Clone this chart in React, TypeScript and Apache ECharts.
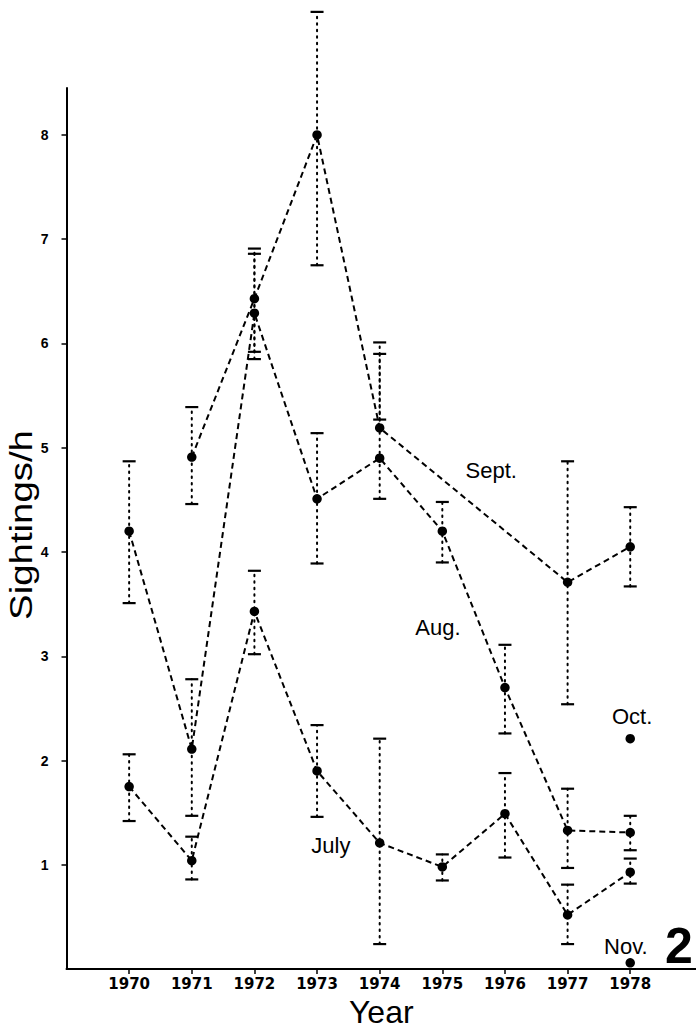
import React, { useEffect, useRef } from "react";
import * as echarts from "echarts";

// ---- data ----
const years = [1970, 1971, 1972, 1973, 1974, 1975, 1976, 1977, 1978];

const septMean = [null, 4.91, 6.43, 8.0, 5.19, null, null, 3.71, 4.05];
const septLow = [null, 4.46, 5.92, 6.75, 5.27, null, null, 2.54, 3.67];
const septHigh = [null, 5.39, 6.91, 9.18, 6.01, null, null, 4.87, 4.43];

const augMean = [4.2, 2.11, 6.29, 4.51, 4.9, 4.2, 2.7, 1.33, 1.31];
const augLow = [3.51, 1.47, 5.85, 3.89, 4.51, 3.9, 2.26, 0.97, 1.14];
const augHigh = [4.87, 2.78, 6.86, 5.14, 5.9, 4.48, 3.11, 1.73, 1.47];

const julyMean = [1.75, 1.04, 3.43, 1.9, 1.21, 0.98, 1.49, 0.52, 0.93];
const julyLow = [1.42, 0.86, 3.02, 1.46, 0.24, 0.85, 1.07, 0.24, 0.82];
const julyHigh = [2.06, 1.27, 3.82, 2.34, 2.21, 1.1, 1.88, 0.81, 1.06];

const octYears = [1978];
const octMean = [2.21];
const novYears = [1978];
const novMean = [0.06];

const yTicks = [1, 2, 3, 4, 5, 6, 7, 8];

// annotation anchors in data coordinates
const monthLabels = ["Sept.", "Aug.", "July", "Oct.", "Nov."];
const monthLabelX = [1975.78, 1974.93, 1973.22, 1978.03, 1977.93];
const monthLabelY = [4.78, 3.28, 1.19, 2.42, 0.22];

const pairs = (vals: (number | null)[]) =>
  years.map((y, i) => (vals[i] == null ? null : [y, vals[i]])).filter(Boolean);

const errTriples = (lo: (number | null)[], hi: (number | null)[]) =>
  years
    .map((y, i) => (lo[i] == null || hi[i] == null ? null : [y, lo[i], hi[i]]))
    .filter(Boolean);

function errorSeries(lo: (number | null)[], hi: (number | null)[]) {
  return {
    type: "custom",
    clip: false,
    silent: true,
    z: 1,
    encode: { x: 0, y: [1, 2] },
    data: errTriples(lo, hi),
    renderItem: (params: any, api: any) => {
      const x = api.value(0);
      const a = api.coord([x, api.value(1)]);
      const b = api.coord([x, api.value(2)]);
      const half = 6.5;
      return {
        type: "group",
        children: [
          {
            type: "line",
            shape: { x1: a[0], y1: a[1], x2: b[0], y2: b[1] },
            style: { stroke: "#000", lineWidth: 2, lineDash: [1.5, 5], lineCap: "round" },
          },
          {
            type: "line",
            shape: { x1: b[0] - half, y1: b[1], x2: b[0] + half, y2: b[1] },
            style: { stroke: "#000", lineWidth: 2.2 },
          },
          {
            type: "line",
            shape: { x1: a[0] - half, y1: a[1], x2: a[0] + half, y2: a[1] },
            style: { stroke: "#000", lineWidth: 2.2 },
          },
        ],
      };
    },
  };
}

function lineSeries(name: string, vals: (number | null)[]) {
  return {
    name,
    type: "line",
    z: 3,
    data: pairs(vals),
    symbol: "circle",
    symbolSize: 9.5,
    itemStyle: { color: "#000", opacity: 1 },
    lineStyle: { color: "#000", width: 2, type: [6, 4] },
    silent: true,
  };
}

function dotSeries(name: string, xs: number[], vals: number[]) {
  return {
    type: "scatter",
    name,
    z: 3,
    symbolSize: 9.5,
    itemStyle: { color: "#000", opacity: 1 },
    data: xs.map((y, i) => [y, vals[i]]),
    silent: true,
  };
}

export default function App() {
  const ref = useRef<HTMLDivElement>(null);
  useEffect(() => {
    document.body.style.margin = "0";
    const chart = echarts.init(ref.current!, null, { renderer: "svg" });
    const font = '"Liberation Sans", Arial, sans-serif';
    chart.setOption({
      animation: false,
      backgroundColor: "#fff",
      grid: { left: 66.5, right: 0, top: 88, bottom: 63 },
      xAxis: {
        type: "value",
        min: 1969,
        max: 1979.05,
        splitLine: { show: false },
        axisLine: { lineStyle: { color: "#000", width: 2 } },
        axisTick: { customValues: years, length: 5, lineStyle: { color: "#000", width: 1.5 } },
        axisLabel: {
          customValues: years,
          formatter: (v: number) => String(Math.round(v)),
          color: "#000",
          fontFamily: '"DejaVu Sans", sans-serif',
          fontWeight: "bold",
          fontSize: 15,
          margin: 7,
        },
        name: "Year",
        nameLocation: "middle",
        nameGap: 22,
        nameTextStyle: { color: "#000", fontFamily: font, fontSize: 32 },
      },
      yAxis: {
        type: "value",
        min: 0,
        max: 8.45,
        splitLine: { show: false },
        axisLine: { lineStyle: { color: "#000", width: 2 } },
        axisTick: { customValues: yTicks, length: 5, lineStyle: { color: "#000", width: 1.5 } },
        axisLabel: {
          customValues: yTicks,
          formatter: (v: number) => String(Math.round(v)),
          color: "#000",
          fontFamily: font,
          fontWeight: "bold",
          fontSize: 14,
          margin: 18,
        },
      },
      graphic: [
        {
          type: "text",
          x: 21,
          y: 525,
          rotation: Math.PI / 2,
          scaleX: 1.2,
          style: {
            text: "Sightings/h",
            font: `32px ${font}`,
            fill: "#000",
            align: "center",
            verticalAlign: "middle",
          },
        },
        {
          type: "text",
          x: 665,
          y: 946,
          style: {
            text: "2",
            font: `bold 50px ${font}`,
            fill: "#000",
            align: "left",
            verticalAlign: "middle",
          },
        },
      ],
      series: [
        errorSeries(septLow, septHigh),
        errorSeries(augLow, augHigh),
        errorSeries(julyLow, julyHigh),
        lineSeries("Sept.", septMean),
        lineSeries("Aug.", augMean),
        lineSeries("July", julyMean),
        dotSeries("Oct.", octYears, octMean),
        dotSeries("Nov.", novYears, novMean),
        {
          type: "scatter",
          name: "labels",
          z: 4,
          symbolSize: 0,
          silent: true,
          itemStyle: { opacity: 1 },
          data: monthLabels.map((t, i) => ({ name: t, value: [monthLabelX[i], monthLabelY[i]] })),
          label: {
            show: true,
            position: "inside",
            formatter: "{b}",
            color: "#000",
            fontFamily: font,
            fontSize: 22,
          },
        },
      ],
    });
    return () => chart.dispose();
  }, []);
  return <div ref={ref} style={{ width: 696, height: 1033 }} />;
}
